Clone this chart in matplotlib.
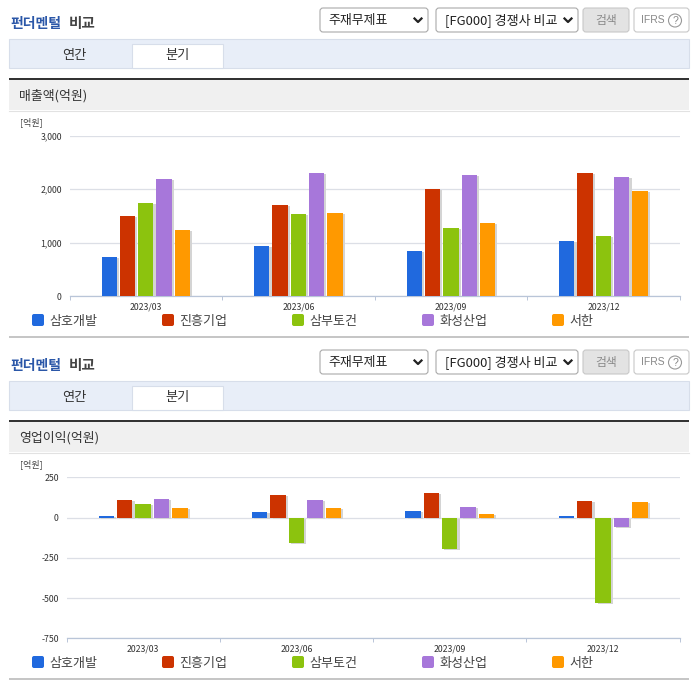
import matplotlib
matplotlib.use("Agg")
import matplotlib.pyplot as plt
import matplotlib.patheffects as pe
from matplotlib.patches import FancyBboxPatch, Rectangle, Circle

plt.rcParams["font.family"] = ["Noto Sans CJK KR", "DejaVu Sans"]
plt.rcParams["axes.unicode_minus"] = False

W, H = 696, 684

quarters = ["2023/03", "2023/06", "2023/09", "2023/12"]
companies = ["삼호개발", "진흥기업", "삼부토건", "화성산업", "서한"]
colors = ["#2069de", "#cc3300", "#8cc30e", "#a777da", "#ff9900"]

# rows follow companies, columns follow quarters
sales = [
    [740, 938, 851, 1031],
    [1497, 1702, 2000, 2298],
    [1745, 1534, 1273, 1124],
    [2186, 2298, 2261, 2224],
    [1236, 1553, 1366, 1963],
]
profit = [
    [10, 33, 40, 8],
    [108, 140, 152, 102],
    [83, -156, -194, -531],
    [115, 108, 65, -56],
    [58, 58, 21, 96],
]
sales_ticks = [0, 1000, 2000, 3000]
profit_ticks = [-750, -500, -250, 0, 250]

TEXT = "#333333"
GRID = "#dcdfe6"
AXIS = "#b9c5d8"

fig = plt.figure(figsize=(W / 100, H / 100), dpi=100, facecolor="white")

# page furniture, drawn in pixel coordinates
bg = fig.add_axes([0, 0, 1, 1])
bg.set_xlim(0, W)
bg.set_ylim(H, 0)
bg.axis("off")


def box(x0, y0, x1, y1, face="white", edge="#aaaaaa", radius=3):
    bg.add_patch(FancyBboxPatch((x0 + radius, y0 + radius), x1 - x0 - 2 * radius,
                                y1 - y0 - 2 * radius,
                                boxstyle=f"round,pad={radius},rounding_size={radius}",
                                fc=face, ec=edge, lw=0.8))


def chevron(x, y):
    bg.plot([x - 3.5, x, x + 3.5], [y - 1.5, y + 2, y - 1.5], color="#222222", lw=1.6)


def draw_header(dy, section):
    bg.text(10, 28 + dy, "펀더멘털", color="#2b57a8", fontsize=10, fontweight="bold", va="baseline")
    bg.text(69, 28 + dy, "비교", color="#444444", fontsize=10.5, fontweight="bold", va="baseline")

    box(320, 8 + dy, 428, 32 + dy)
    bg.text(328, 20.5 + dy, "주재무제표", color="#222222", fontsize=9.3, va="center")
    chevron(418, 20 + dy)
    box(436, 8 + dy, 578, 32 + dy)
    bg.text(445, 20.5 + dy, "[FG000] 경쟁사 비교", color="#222222", fontsize=9.4, va="center")
    chevron(568, 20 + dy)
    box(583, 8 + dy, 629, 32 + dy, face="#e3e3e3", edge="#c8c8c8")
    bg.text(606, 20.5 + dy, "검색", color="#8a8a8a", fontsize=8.5, ha="center", va="center")
    box(634, 8 + dy, 689, 32 + dy, edge="#c8c8c8")
    bg.text(641, 20 + dy, "IFRS", color="#888888", fontsize=7.5, va="center",
            family=["Liberation Sans"])
    bg.add_patch(Circle((675, 20.5 + dy), 6.5, fc="white", ec="#999999", lw=0.8))
    bg.text(675, 20.5 + dy, "?", color="#888888", fontsize=7.5, ha="center", va="center",
            family=["Liberation Sans"])

    bg.add_patch(Rectangle((9, 38.5 + dy), 679.5, 29, fc="#e8eef8", ec="#d7deea", lw=0.8))
    bg.add_patch(Rectangle((131.5, 43.5 + dy), 91, 24, fc="white", ec="#d7deea", lw=0.8))
    bg.text(74, 55 + dy, "연간", color="#333333", fontsize=9.5, ha="center", va="center")
    bg.text(177, 55 + dy, "분기", color="#333333", fontsize=9.5, ha="center", va="center")

    bg.add_patch(Rectangle((9, 80 + dy), 679.5, 30, fc="#f0f0f0", ec="none"))
    bg.add_patch(Rectangle((9, 78 + dy), 679.5, 2, fc="#333333", ec="none"))
    bg.plot([9, 688.5], [110.5 + dy, 110.5 + dy], color="#e2e2e2", lw=0.8)
    bg.text(19, 96 + dy, section, color="#333333", fontsize=9.3, va="center")
    bg.text(20, 122.5 + dy, "[억원]", color="#444444", fontsize=6.5, va="center")


def draw_legend(dy):
    for i, (name, c) in enumerate(zip(companies, colors)):
        x = 32 + 130 * i
        bg.add_patch(FancyBboxPatch((x + 2, 316 + dy), 8, 8,
                                    boxstyle="round,pad=2,rounding_size=2", fc=c, ec="none"))
        bg.text(x + 17, 321 + dy, name, color="#444444", fontsize=9.4, va="center")
    bg.add_patch(Rectangle((9, 336 + dy), 679.5, 2.4, fc="#c6c6c6", ec="none"))


def draw_chart(values, ticks, left, right, top, bottom):
    ax = fig.add_axes([left / W, 1 - bottom / H, (right - left) / W, (bottom - top) / H])
    ax.patch.set_alpha(0)
    ax.set_xlim(-0.5, 3.5)
    ax.set_ylim(ticks[0], ticks[-1])
    shadow = [pe.SimplePatchShadow(offset=(1.6, -0.9), shadow_rgbFace="#d4d4d4", alpha=1),
              pe.Normal()]
    for i, series in enumerate(values):
        xs = [q + (i - 2) * 0.12 for q in range(len(quarters))]
        bars = ax.bar(xs, series, width=0.1, color=colors[i], zorder=3)
        for b in bars:
            b.set_path_effects(shadow)

    ax.set_yticks(ticks)
    ax.set_yticklabels([f"{t:,}" for t in ticks], fontsize=6.3, color=TEXT)
    ax.set_xticks(range(len(quarters)))
    ax.set_xticklabels(quarters, fontsize=6.3, color=TEXT)
    ax.set_xticks([q - 0.5 for q in range(len(quarters) + 1)], minor=True)
    ax.tick_params(axis="y", length=0, pad=5.5)
    ax.tick_params(axis="x", which="major", length=0, pad=4.5)
    ax.tick_params(axis="x", which="minor", length=3, width=0.7, color=AXIS)
    ax.yaxis.grid(True, color=GRID, lw=0.9, zorder=0)
    ax.set_axisbelow(True)
    for side in ("top", "left", "right"):
        ax.spines[side].set_visible(False)
    ax.spines["bottom"].set_color(AXIS)
    ax.spines["bottom"].set_linewidth(0.9)
    return ax


draw_header(0, "매출액(억원)")
draw_chart(sales, sales_ticks, 69.5, 679.7, 135.5, 296.3)
draw_legend(0)

draw_header(342, "영업이익(억원)")
draw_chart(profit, profit_ticks, 66.5, 679.7, 477.3, 638.3)
draw_legend(342)

fig.savefig("out.png", dpi=100)
